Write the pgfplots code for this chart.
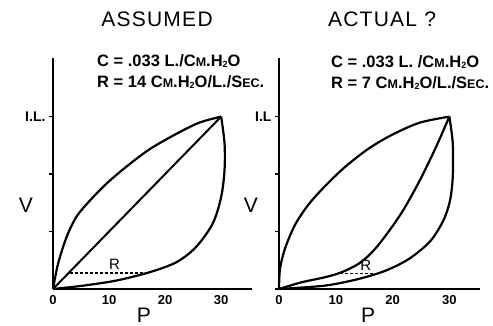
\documentclass[border=0pt]{standalone}
\usepackage{fontspec}
\setmainfont{Liberation Sans}
\usepackage{pgfplots}
\pgfplotsset{compat=1.18}
\newcommand\smc[1]{{\fontsize{12.5}{12.5}\selectfont #1}}
\newcommand\htwo{H{\fontsize{9}{9}\selectfont\raisebox{-1.5pt}{2}}O}
\pgfplotsset{
  myax/.style={
    scale only axis, axis lines=left, axis line style={line width=2.2pt,-},
    xmin=0, ymin=0, ymax=1.34,
    xtick={0,10,20,30}, ytick={0.3333,0.6667,1},
    tick align=outside, major tick length=4pt,
    y tick style={line width=1.6pt,black},
    x tick style={draw=none},
    xticklabel style={font=\bfseries\fontsize{13}{13}\selectfont, yshift=1pt},
    yticklabel style={font=\bfseries\fontsize{14}{14}\selectfont},
    /pgf/number format/assume math mode=true,
    clip=false, height=231pt,
  },
  crv/.style={black, line width=2.2pt, smooth, tension=0.5, no marks},
}
\begin{document}
\begin{tikzpicture}
\path[use as bounding box] (0pt,0pt) rectangle (493pt,326pt);
% left panel
\begin{axis}[myax, at={(53pt,37pt)}, anchor=south west, width=199pt, xmax=35.5,
  yticklabels={,,I.L.}]
\addplot[crv] coordinates {(0,0) (0.9,0.146) (2.4,0.30) (4.2,0.42) (6.5,0.51) (9.5,0.61) (13.1,0.71) (17.2,0.81) (22.0,0.90) (26.1,0.965) (30,1)};
\addplot[crv] coordinates {(30,1) (30.6,0.845) (30.6,0.69) (30,0.534) (28.5,0.38) (25.5,0.243) (22.0,0.155) (17.2,0.097) (11.3,0.049) (5.3,0.019) (0,0)};
\addplot[black, line width=2pt, no marks] coordinates {(0,0) (30,1)};
\addplot[black, line width=1.2pt, densely dashed, no marks] coordinates {(3.0,0.093) (17.2,0.093)};
\node[font=\fontsize{15}{15}\selectfont] at (axis cs:11,0.145) {R};
\end{axis}
% right panel
\begin{axis}[myax, at={(279pt,37pt)}, anchor=south west, width=201pt, xmax=35.4,
  ytick={0,0.3333,0.6667,1}, yticklabels={,,,I.L}]
\addplot[crv] coordinates {(0,0) (0.18,0.118) (1.07,0.236) (2.85,0.374) (5.2,0.49) (8.2,0.60) (11.7,0.71) (15.9,0.817) (20.0,0.896) (24.8,0.965) (30,1)};
\addplot[crv] coordinates {(30,1) (30.6,0.846) (30.6,0.65) (30.1,0.51) (28.9,0.394) (26.6,0.276) (23.0,0.177) (18.9,0.108) (14.1,0.059) (8.2,0.02) (0,0)};
\addplot[crv] coordinates {(0,0) (4.0,0.039) (8.2,0.069) (11.1,0.098) (14.1,0.148) (16.5,0.217) (18.9,0.315) (21.8,0.453) (24.8,0.63) (27.7,0.827) (30,1)};
\addplot[black, line width=1.2pt, densely dashed, no marks] coordinates {(10.8,0.088) (17.1,0.088)};
\node[font=\fontsize{15}{15}\selectfont] at (axis cs:15.3,0.14) {R};
\end{axis}
% titles and annotations
\node[font=\fontsize{21}{21}\selectfont\addfontfeatures{LetterSpace=6}] at (157pt,306.5pt) {ASSUMED};
\node[font=\fontsize{21}{21}\selectfont\addfontfeatures{LetterSpace=6}] at (382pt,306.5pt) {ACTUAL ?};
\node[anchor=west, inner sep=0pt, font=\bfseries\fontsize{16.5}{16.5}\selectfont] at (97pt,265pt) {C = .033 L./C\smc{M}.\htwo};
\node[anchor=west, inner sep=0pt, font=\bfseries\fontsize{16.5}{16.5}\selectfont] at (97pt,244pt) {R = 14 C\smc{M}.\htwo/L./S\smc{EC}.};
\node[anchor=west, inner sep=0pt, font=\bfseries\fontsize{16.5}{16.5}\selectfont] at (331pt,264pt) {C = .033 L. /C\smc{M}.\htwo};
\node[anchor=west, inner sep=0pt, font=\bfseries\fontsize{16.5}{16.5}\selectfont] at (331pt,243pt) {R = 7 C\smc{M}.\htwo/L./S\smc{EC}.};
\node[font=\fontsize{21}{21}\selectfont] at (26pt,121pt) {V};
\node[font=\fontsize{21}{21}\selectfont] at (251pt,121pt) {V};
\node[font=\fontsize{21}{21}\selectfont] at (144pt,11pt) {P};
\node[font=\fontsize{21}{21}\selectfont] at (368pt,11pt) {P};
\end{tikzpicture}
\end{document}
